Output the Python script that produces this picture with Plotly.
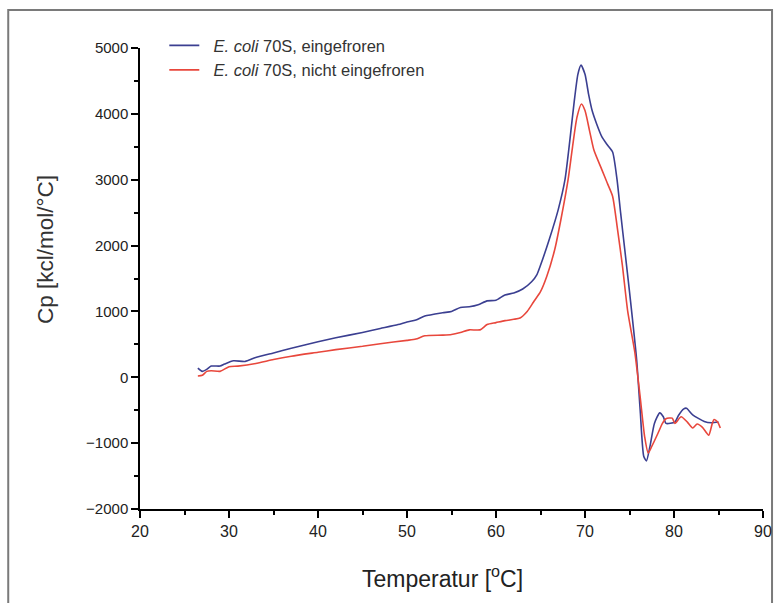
import plotly.graph_objects as go

# Blue: E. coli 70S, eingefroren
temp_blue = [26.5, 27, 27.5, 28, 29, 29.5, 30.5, 31.8, 33, 35, 37, 40, 42, 45, 47, 49, 50, 51, 52, 54, 55, 56, 57, 58, 59, 60, 61, 62, 63, 64, 64.6, 65, 66, 67, 67.75, 68.3, 68.8, 69.2, 69.55, 70, 70.4, 70.8, 71.3, 71.9, 72.5, 73.1, 73.6, 74, 74.5, 75, 75.8, 76.2, 76.6, 76.9, 77.3, 77.8, 78.4, 78.8, 79.1, 80.1, 80.5, 81.1, 81.4, 82.1, 83.4, 84.2, 85]
cp_blue = [140, 90, 120, 170, 170, 200, 250, 240, 300, 370, 440, 540, 600, 680, 740, 800, 840, 870, 930, 980, 1000, 1060, 1070, 1100, 1160, 1170, 1250, 1280, 1340, 1450, 1560, 1700, 2100, 2550, 3000, 3600, 4200, 4600, 4740, 4600, 4300, 4050, 3850, 3650, 3530, 3420, 3000, 2500, 1900, 1300, 270, -500, -1200, -1270, -1050, -700, -540, -600, -700, -680, -580, -480, -470, -570, -670, -690, -680]

# Red: E. coli 70S, nicht eingefroren
temp_red = [26.5, 27, 27.5, 28, 29, 30, 31, 33, 35, 37, 40, 42, 45, 47, 50, 51, 52, 54, 55, 56, 57, 58.2, 59, 60, 61, 62, 62.7, 63.5, 64.2, 65, 65.7, 66.6, 67.3, 68.1, 68.6, 69.1, 69.6, 70, 70.5, 71, 71.9, 72.5, 73.1, 73.6, 74.2, 74.8, 75.6, 76.2, 76.7, 77.1, 77.5, 78.2, 78.7, 79.1, 79.8, 80.1, 80.8, 81.5, 82.1, 82.6, 83.2, 83.9, 84.3, 84.5, 84.9, 85.2]
cp_red = [20, 30, 90, 100, 90, 160, 170, 210, 270, 320, 380, 420, 470, 510, 560, 580, 630, 640, 650, 680, 720, 720, 800, 830, 860, 880, 900, 1000, 1140, 1300, 1530, 1940, 2400, 3000, 3500, 3950, 4150, 4050, 3750, 3450, 3150, 2950, 2750, 2300, 1700, 1000, 380, -300, -900, -1150, -1050, -850, -700, -630, -620, -700, -600, -680, -770, -710, -760, -880, -700, -640, -680, -770]

x_ticks = [20, 30, 40, 50, 60, 70, 80, 90]
y_ticks = [-2000, -1000, 0, 1000, 2000, 3000, 4000, 5000]

fig = go.Figure()
fig.add_trace(go.Scatter(x=temp_blue, y=cp_blue, mode="lines", line=dict(color="#3b3f91", width=1.6, shape="spline", smoothing=0.6),
                         name="  <i>E. coli</i> 70S, eingefroren"))
fig.add_trace(go.Scatter(x=temp_red, y=cp_red, mode="lines", line=dict(color="#e8473c", width=1.6, shape="spline", smoothing=0.6),
                         name="  <i>E. coli</i> 70S, nicht eingefroren"))

font_family = "Liberation Sans, Arial, sans-serif"
fig.update_layout(
    template="none",
    width=776, height=603,
    margin=dict(l=140, r=13, t=48, b=94, autoexpand=False),
    paper_bgcolor="white", plot_bgcolor="white",
    font=dict(family=font_family, color="#222222"),
    showlegend=True,
    legend=dict(x=0.039, y=1.043, xanchor="left", yanchor="top", bgcolor="rgba(0,0,0,0)", borderwidth=0,
                font=dict(size=16.5, family=font_family, color="#333333"), tracegroupgap=0, itemwidth=30),
    xaxis=dict(range=[20, 90], tickvals=x_ticks, ticks="outside", ticklen=7, tickwidth=1.5, tickcolor="black",
               showline=True, linecolor="black", linewidth=1.5, showgrid=False, zeroline=False, automargin=False,
               tickfont=dict(size=16, family=font_family, color="#222222"),
               minor=dict(dtick=5, ticks="outside", ticklen=4, tickwidth=1.5, tickcolor="black", showgrid=False)),
    yaxis=dict(range=[-2000, 5000], tickvals=y_ticks, ticks="outside", ticklen=7, tickwidth=1.5, tickcolor="black",
               showline=True, linecolor="black", linewidth=1.5, showgrid=False, zeroline=False, automargin=False,
               tickfont=dict(size=15, family=font_family, color="#222222"),
               minor=dict(dtick=500, ticks="outside", ticklen=4, tickwidth=1.5, tickcolor="black", showgrid=False)),
    annotations=[
        dict(text="Temperatur [<sup>o</sup>C]", xref="paper", yref="paper", x=(442 - 140) / 623, y=(509 - 577) / 461,
             xanchor="center", yanchor="middle", showarrow=False,
             font=dict(size=23, family=font_family, color="#222222")),
        dict(text="Cp [kcl/mol/°C]", xref="paper", yref="paper", x=(45 - 140) / 623, y=(509 - 250) / 461,
             xanchor="center", yanchor="middle", showarrow=False, textangle=-90,
             font=dict(size=22.5, family=font_family, color="#333333")),
    ],
    shapes=[dict(type="rect", xref="paper", yref="paper", x0=-0.2115, x1=1.0145, y0=-0.25, y1=1.0824,
                 line=dict(color="#7a7a7a", width=2), fillcolor="rgba(0,0,0,0)", layer="below")],
)

fig.write_html("out.html")
